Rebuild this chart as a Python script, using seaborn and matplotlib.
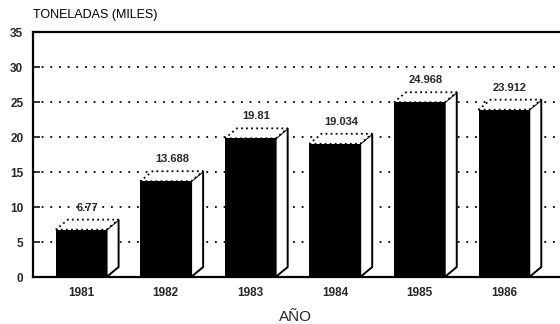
import matplotlib
matplotlib.use("Agg")
import matplotlib.pyplot as plt
import seaborn as sns
import pandas as pd

# Annual tonnage, thousands of tonnes
years = ["1981", "1982", "1983", "1984", "1985", "1986"]
tonnes = [6.77, 13.688, 19.81, 19.034, 24.968, 23.912]
value_labels = ["6.77", "13.688", "19.81", "19.034", "24.968", "23.912"]
y_ticks = [0, 5, 10, 15, 20, 25, 30, 35]

sns.set_style("white")
plt.rcParams["font.family"] = ["Liberation Sans", "DejaVu Sans"]

df = pd.DataFrame({"year": years, "tonnes": tonnes})

fig = plt.figure(figsize=(5.6, 3.24), dpi=100)
ax = fig.add_axes([0.059, 0.145, 0.939, 0.756])

bar_w = 0.6
sns.barplot(data=df, x="year", y="tonnes", color="black", width=bar_w,
            saturation=1, edgecolor="none", ax=ax, zorder=3)

ax.set_ylim(0, 35)
ax.set_xlim(-0.57, 5.65)

# depth of the pseudo-3D boxes, in data units
dx, dy = 0.142, 1.43

for i, v in enumerate(tonnes):
    left, right = i - bar_w / 2, i + bar_w / 2
    side = [(right, 0), (right + dx, dy), (right + dx, v + dy), (right, v)]
    ax.add_patch(plt.Polygon(side, closed=True, facecolor="white",
                             edgecolor="black", linewidth=1.4, zorder=2))
    top = [(left, v), (right, v), (right + dx, v + dy), (left + dx, v + dy)]
    ax.add_patch(plt.Polygon(top, closed=True, facecolor="white",
                             edgecolor="black", linewidth=1.3,
                             linestyle=(0, (1, 1.8)), zorder=2.5))
    ax.annotate(value_labels[i], (i + dx / 2, v + dy), xytext=(0, 5),
                textcoords="offset points", ha="center", va="bottom",
                fontsize=8, fontweight="bold")

# dotted reference lines
for t in y_ticks[1:-1]:
    ax.axhline(t, color="black", linewidth=1.3, linestyle=(0, (1, 3.8)), zorder=0.5)

ax.set_yticks(y_ticks)
ax.set_yticklabels([str(t) for t in y_ticks], fontsize=8.5, fontweight="bold")
ax.tick_params(axis="y", direction="in", length=5, width=1.3, pad=7, left=True)
ax.tick_params(axis="x", length=0, pad=7, labelsize=8.5)
for lab in ax.get_xticklabels():
    lab.set_fontweight("bold")

for s in ["left", "bottom", "top"]:
    ax.spines[s].set_visible(True)
    ax.spines[s].set_color("black")
    ax.spines[s].set_linewidth(1.6)
ax.spines["right"].set_visible(False)

ax.set_ylabel("")
ax.set_xlabel("AÑO", fontsize=11, labelpad=8)
fig.text(0.059, 0.953, "TONELADAS (MILES)", fontsize=9, ha="left", va="center",
         fontweight="medium", color="black")

fig.savefig("out.png", dpi=100)
